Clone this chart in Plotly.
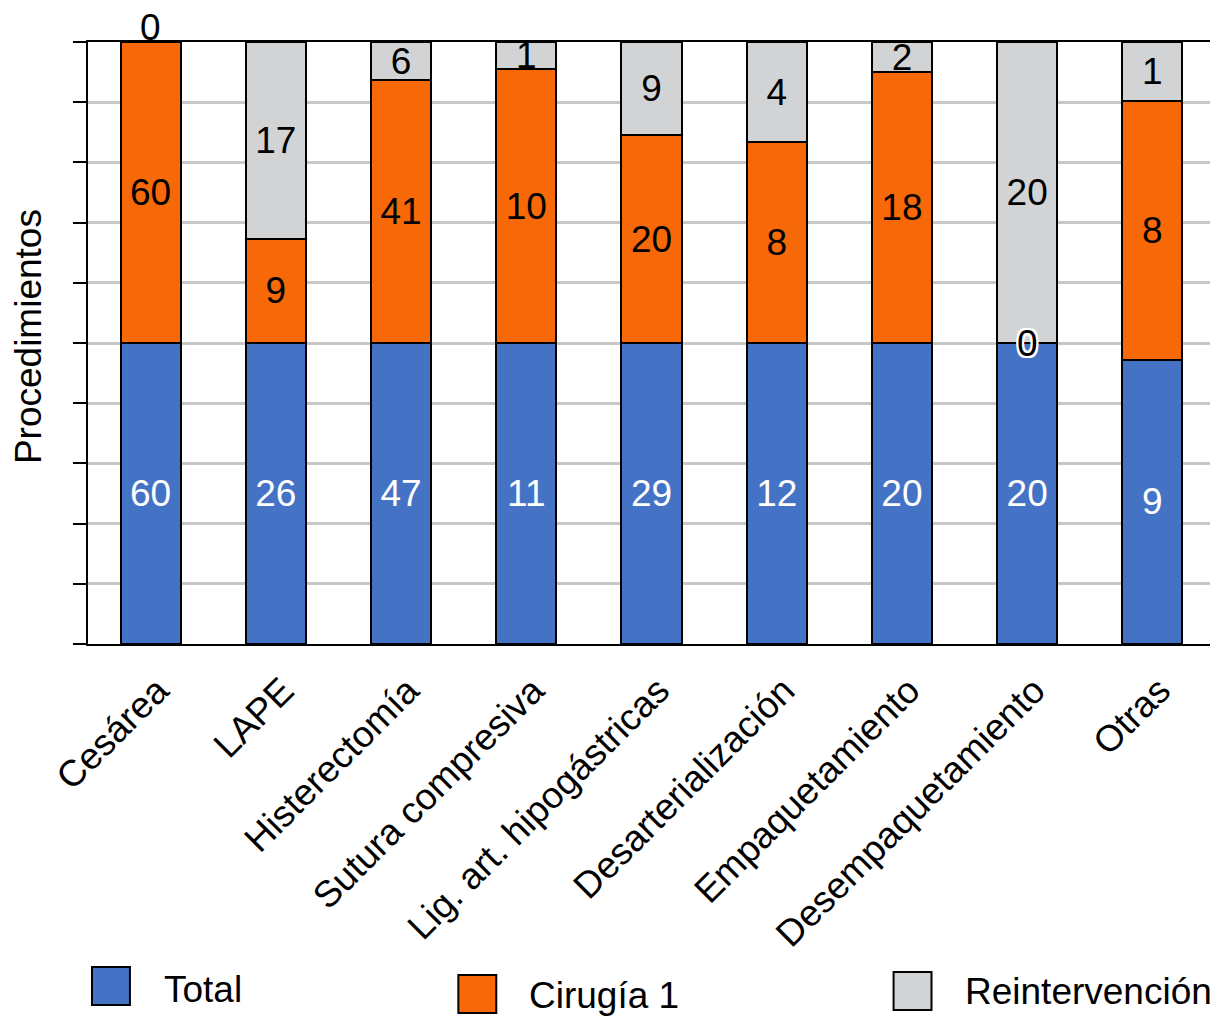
import plotly.graph_objects as go

categories = ["Cesárea", "LAPE", "Histerectomía", "Sutura compresiva",
              "Lig. art. hipogástricas", "Desarterialización", "Empaquetamiento",
              "Desempaquetamiento", "Otras"]
total = [60, 26, 47, 11, 29, 12, 20, 20, 9]
cirugia1 = [60, 9, 41, 10, 20, 8, 18, 0, 8.2]
reinterv = [0, 17, 6, 1, 9, 4, 2, 20, 1.87]
total_lbl = ["60", "26", "47", "11", "29", "12", "20", "20", "9"]
cirugia1_lbl = ["60", "9", "41", "10", "20", "8", "18", "0", "8"]
reinterv_lbl = ["0", "17", "6", "1", "9", "4", "2", "20", "1"]

sums = [a + b + c for a, b, c in zip(total, cirugia1, reinterv)]
p_tot = [a / s * 100 for a, s in zip(total, sums)]
p_cir = [b / s * 100 for b, s in zip(cirugia1, sums)]
p_rei = [c / s * 100 for c, s in zip(reinterv, sums)]

BLUE = "#4472C4"
ORANGE = "#F76808"
GRAY = "#D2D3D5"
FONT = "Liberation Sans"
FS = 37

OFF = 8  # page body margin
W, H = 1210, 1016
L, R, T, B = 80, 1, 34, 380
PW, PH = W - L - R, H - T - B


def px_x(px):
    return (px - OFF - L) / PW


def px_y(py):
    return (H - B - (py - OFF)) / PH


fig = go.Figure()
series = [
    ("Total", p_tot, total, total_lbl, BLUE, "white"),
    ("Cirugía 1", p_cir, cirugia1, cirugia1_lbl, ORANGE, "black"),
    ("Reintervención", p_rei, reinterv, reinterv_lbl, GRAY, "black"),
]
for name, yv, raw, lbl, col, tcol in series:
    txt = [l if v > 0 else "" for l, v in zip(lbl, raw)]
    fig.add_trace(go.Bar(
        x=categories, y=yv, name=name, text=txt,
        textposition="inside", insidetextanchor="middle", constraintext="none",
        textangle=0, cliponaxis=False,
        textfont=dict(family=FONT, size=FS, color=tcol),
        marker=dict(color=col, line=dict(color="black", width=2)),
        showlegend=False,
    ))

annotations = []
# zero-valued segments labels
for i, cat in enumerate(categories):
    if reinterv[i] == 0:
        annotations.append(dict(x=cat, y=p_tot[i] + p_cir[i], xref="x", yref="y",
                                text=reinterv_lbl[i], showarrow=False, yanchor="bottom",
                                yshift=-8,
                                font=dict(family=FONT, size=FS, color="black")))
    if cirugia1[i] == 0:
        annotations.append(dict(x=cat, y=p_tot[i], xref="x", yref="y",
                                text=cirugia1_lbl[i], showarrow=False, yanchor="middle",
                                font=dict(family=FONT, size=FS, color="black",
                                          shadow="2px 0 0 white, -2px 0 0 white, 0 2px 0 white, 0 -2px 0 white, 2px 2px 0 white, -2px -2px 0 white, 2px -2px 0 white, -2px 2px 0 white")))

# y-axis title
annotations.append(dict(x=px_x(28), y=px_y(337), xref="paper", yref="paper",
                        text="Procedimientos", textangle=-90, showarrow=False,
                        xanchor="center", yanchor="middle",
                        font=dict(family=FONT, size=FS, color="black")))

# manual legend
legend_items = [
    ("Total", BLUE, 92, 967, 162, 989),
    ("Cirugía 1", ORANGE, 459, 975, 528, 995),
    ("Reintervención", GRAY, 895, 972, 965, 991),
]
shapes = []
for name, col, sx, sy, tx, ty in legend_items:
    shapes.append(dict(type="rect", xref="paper", yref="paper",
                       x0=px_x(sx), x1=px_x(sx + 38), y0=px_y(sy), y1=px_y(sy + 38),
                       fillcolor=col, line=dict(color="black", width=2)))
    annotations.append(dict(x=px_x(tx), y=px_y(ty), xref="paper", yref="paper",
                            text=name, showarrow=False, xanchor="left", yanchor="middle",
                            font=dict(family=FONT, size=FS, color="black")))

fig.update_layout(
    barmode="stack", bargap=0.52,
    width=W, height=H,
    margin=dict(l=L, r=R, t=T, b=B, pad=0),
    plot_bgcolor="white", paper_bgcolor="white",
    font=dict(family=FONT, size=FS, color="black"),
    annotations=annotations, shapes=shapes,
    xaxis=dict(tickangle=-45, showline=True, linecolor="black", linewidth=2,
               mirror=True, ticks="", showgrid=False,
               ticklabelstandoff=8, ticklabelshift=7,
               tickfont=dict(family=FONT, size=FS, color="black")),
    yaxis=dict(range=[0, 100], dtick=10, showticklabels=False, ticks="outside",
               ticklen=13, tickwidth=2, tickcolor="black",
               showline=True, linecolor="black", linewidth=2, mirror=True,
               showgrid=True, gridcolor="#C8C8C8", gridwidth=2.5, zeroline=False),
)

fig.write_html("out.html")
